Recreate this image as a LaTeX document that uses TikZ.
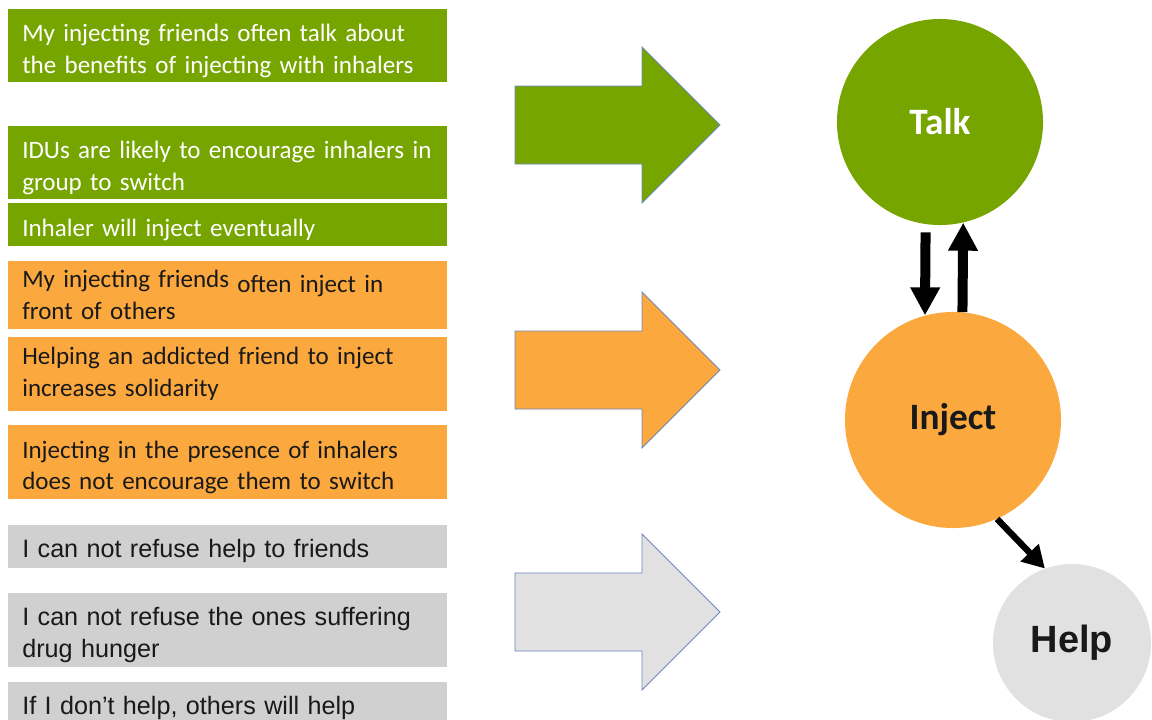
\documentclass[tikz,border=0pt]{standalone}
\usepackage{fontspec}
\setmainfont{Carlito}
\newfontfamily\arialfont{Liberation Sans}
\usetikzlibrary{arrows.meta,positioning}

\definecolor{leafgreen}{RGB}{119,165,0}
\definecolor{amber}{RGB}{251,168,62}
\definecolor{boxgrey}{RGB}{208,208,208}
\definecolor{palegrey}{RGB}{225,225,225}
\definecolor{rimblue}{RGB}{110,135,185}

\begin{document}
\begin{tikzpicture}[x=0.025cm,y=-0.025cm,
    box/.style={anchor=west,inner xsep=0.35cm,inner ysep=0pt,text width=10.275cm,
                align=left,font=\fontsize{17.8}{22.5}\selectfont},
    lowered/.style={execute at begin node={\rule{0pt}{20pt}}},
    greenbox/.style={box,lowered,fill=leafgreen,text=white},
    orangebox/.style={box,fill=amber,text=black!90},
    greybox/.style={box,lowered,fill=boxgrey,text=black!90,font=\arialfont\fontsize{17.9}{22.8}\selectfont},
    blockarrow/.style={draw=rimblue,line width=0.6pt,line join=miter},
    main node/.style={circle,inner sep=0pt,font=\bfseries\fontsize{26.5}{30}\selectfont},
    fatarrow/.style={-{Triangle[width=0.7cm,length=0.7cm]},line width=0.25cm,black}]

  \useasboundingbox (0,0) rectangle (1152,719);
  \clip (0,0) rectangle (1152,719);

  % statements, one box per line of the list
  \node[greenbox,minimum height=1.825cm] (g1) at (8,45.5)
    {My injecting friends often talk about\\the benefits of injecting with inhalers};
  \node[greenbox,minimum height=1.825cm] (g2) at (8,162.5)
    {IDUs are likely to encourage inhalers in\\group to switch};
  \node[greenbox,minimum height=1.075cm] (g3) at (8,224.5)
    {Inhaler will inject eventually};
  \node[orangebox,minimum height=1.7cm] (o1) at (8,295)
    {My injecting friends \raisebox{-3.5pt}{often inject in}\\front of others};
  \node[orangebox,minimum height=1.85cm] (o2) at (8,374)
    {Helping an addicted friend to inject\\increases solidarity};
  \node[orangebox,lowered,minimum height=1.85cm] (o3) at (8,462)
    {Injecting in the presence of inhalers\\does not encourage them to switch};
  \node[greybox,minimum height=1.075cm] (r1) at (8,546.5)
    {I can not refuse help to friends};
  \node[greybox,minimum height=1.85cm] (r2) at (8,630)
    {I can not refuse the ones suffering\\drug hunger};
  \node[greybox,minimum height=1.075cm] (r3) at (8,703)
    {If I don’t help, others will help};

  % big block arrows
  \foreach \yc/\col in {125/leafgreen,370/amber,612/palegrey}
    \draw[blockarrow,fill=\col] (515,\yc-39) -- (642,\yc-39) -- (642,\yc-78) -- (720,\yc)
      -- (642,\yc+78) -- (642,\yc+39) -- (515,\yc+39) -- cycle;

  % circles
  \node[main node,fill=leafgreen,text=white,minimum size=5.15cm] (talk) at (940,122) {Talk};
  \node[main node,fill=amber,text=black!90,minimum size=5.4cm] (inject) at (953,420) {Inject};
  \node[main node,fill=palegrey,text=black!90,minimum size=3.95cm,
        font=\arialfont\bfseries\fontsize{27}{30}\selectfont] (help) at (1072,643) {Help};

  \draw[fatarrow,shorten <=0.2cm] (talk.262) -- (inject.105);
  \draw[fatarrow] (inject.85) -- (talk.283);
  \draw[-{Triangle[width=0.6cm,length=0.55cm]},line width=0.16cm] (inject.-66) -- (help.110);
\end{tikzpicture}
\end{document}
